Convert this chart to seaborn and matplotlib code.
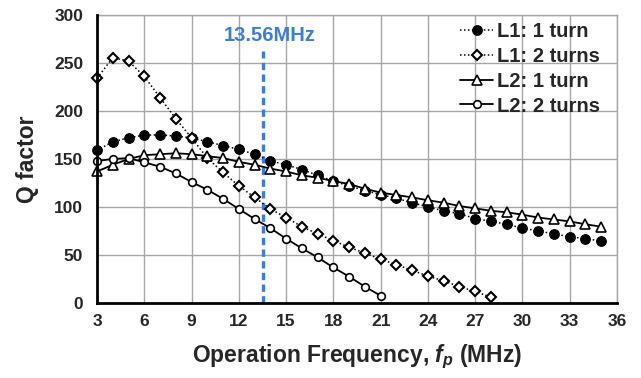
import numpy as np
import pandas as pd
import matplotlib
matplotlib.use("Agg")
import matplotlib.pyplot as plt
import seaborn as sns

# ---- data ----
freq_all = list(range(3, 36))
l1_1turn = [159, 168, 172, 175, 175, 174, 172, 168, 164, 160, 155, 148, 144, 139, 133,
            127, 122, 117, 113, 109, 104.5, 100, 96, 93, 88, 85, 82, 78, 75, 72, 69, 67, 64.5]
l2_1turn = [137, 144, 150, 154, 155, 156, 155, 153, 151, 147, 144, 140, 137, 133, 130.5,
            127, 124, 119, 115, 112.5, 110, 107, 104.5, 101, 98.6, 96, 94.5, 92, 89, 87, 85, 82, 79.5]
freq_l1_2 = list(range(3, 29))
l1_2turns = [234, 255.5, 252, 236, 214, 192, 172, 151, 136, 122, 110, 98, 89, 79.5, 72, 65,
             58, 52, 45.5, 40, 34, 28, 23, 17, 12, 6]
freq_l2_2 = list(range(3, 22))
l2_2turns = [148, 150, 151, 146.5, 142, 135, 126, 118, 108.5, 98, 87.5, 78, 67, 57, 47.5,
             37, 27.5, 17, 7.6]
series_names = ["L1: 1 turn", "L1: 2 turns", "L2: 1 turn", "L2: 2 turns"]
marker_freq = 13.56
marker_label = "13.56MHz"
xticks = list(range(3, 37, 3))
yticks = list(range(0, 301, 50))

sns.set_theme(style="white")
plt.rcParams["font.family"] = ["Liberation Sans", "DejaVu Sans"]
plt.rcParams["font.weight"] = "bold"
plt.rcParams["mathtext.fontset"] = "custom"
plt.rcParams["mathtext.it"] = "Liberation Sans:italic:bold"
plt.rcParams["mathtext.rm"] = "Liberation Sans:bold"

fig = plt.figure(figsize=(6.41, 3.78), dpi=100)
ax = fig.add_axes([97 / 641, 1 - 303 / 378, 520 / 641, 288 / 378])

dot = (0, (1, 1.6))
sns.lineplot(x=freq_all, y=l1_1turn, ax=ax, color="black", lw=1.1, linestyle=dot,
             marker="o", markersize=7, markerfacecolor="black", markeredgecolor="black",
             label=series_names[0], zorder=4, clip_on=False)
sns.lineplot(x=freq_l1_2, y=l1_2turns, ax=ax, color="black", lw=1.1, linestyle=dot,
             marker="D", markersize=5.2, markerfacecolor="white", markeredgecolor="black",
             markeredgewidth=1.5, label=series_names[1], zorder=4, clip_on=False)
sns.lineplot(x=freq_all, y=l2_1turn, ax=ax, color="black", lw=1.3, linestyle="-",
             marker="^", markersize=6.5, markerfacecolor="white", markeredgecolor="black",
             markeredgewidth=1.2, label=series_names[2], zorder=4, clip_on=False)
sns.lineplot(x=freq_l2_2, y=l2_2turns, ax=ax, color="black", lw=1.3, linestyle="-",
             marker="o", markersize=5.5, markerfacecolor="white", markeredgecolor="black",
             markeredgewidth=1.2, label=series_names[3], zorder=4, clip_on=False)

blue = "#3b7ddd"
ax.vlines(marker_freq, 0, 262, colors=blue, lw=2.4, linestyles=[(0, (2.2, 1.3))], zorder=3)
ax.text(13.98, 279, marker_label, color=blue, fontsize=14.5, fontweight="bold",
        ha="center", va="center")

ax.set_xlim(3, 36)
ax.set_ylim(0, 300)
ax.set_xticks(xticks)
ax.set_yticks(yticks)
ax.grid(True, color="#a6a6a6", lw=1)
ax.set_axisbelow(True)
for s in ["top", "right"]:
    ax.spines[s].set_color("#a6a6a6")
    ax.spines[s].set_linewidth(1)
for s in ["left", "bottom"]:
    ax.spines[s].set_color("black")
    ax.spines[s].set_linewidth(2)
    ax.spines[s].set_zorder(5)
ax.tick_params(axis="x", direction="inout", length=8, width=1.5, color="black",
               labelsize=12.5, pad=4)
ax.tick_params(axis="y", direction="out", length=5, width=1.5, color="black",
               labelsize=12.5, pad=5)
for lab in ax.get_xticklabels() + ax.get_yticklabels():
    lab.set_fontweight("bold")

ax.set_xlabel(r"Operation Frequency, $f_p$ (MHz)", fontsize=16.5, fontweight="bold",
              labelpad=10)
ax.set_ylabel("Q factor", fontsize=16.5, fontweight="bold", labelpad=11)

leg = ax.legend(loc="upper left", bbox_to_anchor=(460 / 641, 1 - 22 / 378),
                bbox_transform=fig.transFigure, frameon=False, fontsize=14.5,
                handlelength=1.65, handletextpad=0.2, labelspacing=0.29,
                borderpad=0, borderaxespad=0)
for t in leg.get_texts():
    t.set_fontweight("bold")

fig.savefig("out.png", dpi=100)
